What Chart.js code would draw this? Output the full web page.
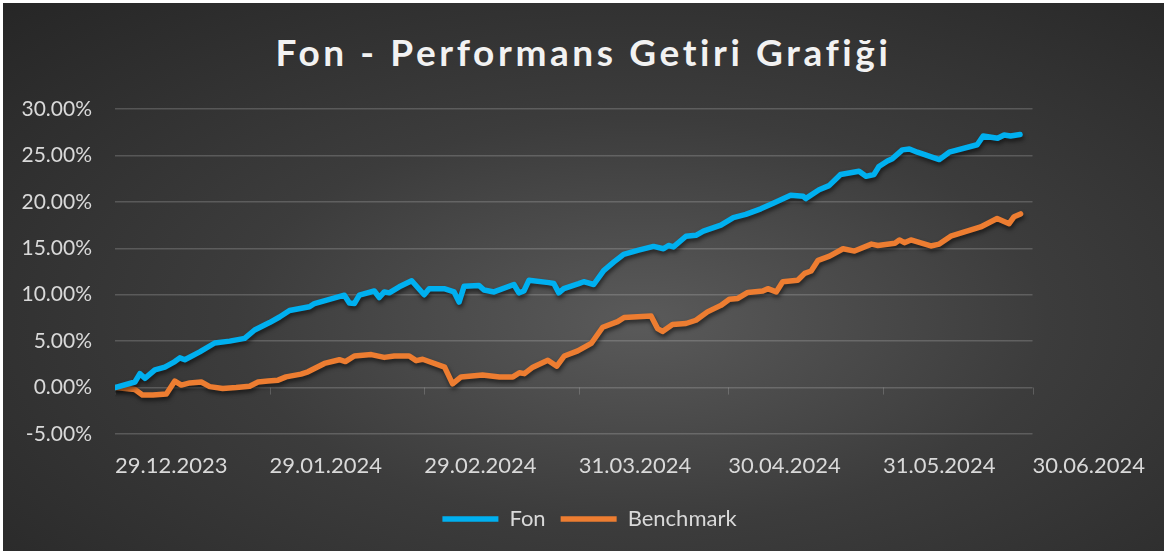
<!DOCTYPE html>
<html>
<head>
<meta charset="utf-8">
<script src="https://cdn.jsdelivr.net/npm/chart.js@4.4.1/dist/chart.umd.min.js"></script>
<style>
html, body { margin: 0; padding: 0; background: #fff; }
#box {
  position: absolute; left: 3px; top: 3px; width: 1161px; height: 548px;
  background: radial-gradient(ellipse farthest-corner at 55% 58%, #5a5a5a 0%, #3c3c3c 45%, #262626 100%);
}
#title {
  position: absolute; left: 0; right: 0; top: 27px; text-align: center;
  font-family: Lato, "Open Sans", sans-serif; font-weight: bold; font-size: 37px;
  letter-spacing: 3.6px; color: #f2f2f2; line-height: 44px;
}
canvas { position: absolute; left: 0; top: 0; }
</style>
</head>
<body>
<div id="box">
  <div id="title">Fon - Performans Getiri Grafiği</div>
  <canvas id="grafik" width="1161" height="548"></canvas>
</div>
<script>
// gün sayısı: 29.12.2023'den itibaren
var tickDays = [0, 31, 62, 93, 123, 154, 184];
var tickLabels = ["29.12.2023", "29.01.2024", "29.02.2024", "31.03.2024", "30.04.2024", "31.05.2024", "30.06.2024"];

var fonDays = [0, 4, 5, 6, 8, 10, 12, 13, 14, 17, 20, 23, 26, 28, 31, 33, 35, 39, 40, 43, 46, 47, 48, 49, 52, 53, 54, 55, 57, 59.5,
  62, 63, 66, 68, 69, 70, 73, 74, 76, 80, 81, 82, 83, 87, 88, 89, 90, 93, 94, 96, 98, 100, 102, 105, 108, 110, 111, 112,
  114.5, 116.5, 118, 121.5, 124, 126.5, 129.5, 132, 135.5, 138, 138.5, 141.2, 143.2, 145.5, 149.2, 150.6, 152.2, 153.2,
  154.9, 155.9, 157.9, 159.3, 160.9, 165.3, 167.3, 172.9, 174.1, 177, 178.3, 179.6, 181.5];
var fonValues = [0, 0.6, 1.5, 1.0, 1.9, 2.2, 2.8, 3.2, 3.0, 3.85, 4.8, 5.0, 5.3, 6.2, 7.0, 7.6, 8.3, 8.7, 9.05, 9.5, 9.95, 9.1, 9.05, 9.95, 10.4, 9.7, 10.3, 10.2, 10.85, 11.5,
  10.0, 10.65, 10.65, 10.3, 9.2, 10.9, 11.0, 10.5, 10.3, 11.1, 10.2, 10.4, 11.55, 11.3, 11.2, 10.2, 10.65, 11.2, 11.4, 11.1, 12.6, 13.5, 14.35, 14.8, 15.2, 14.95, 15.3, 15.15,
  16.3, 16.4, 16.85, 17.5, 18.3, 18.65, 19.25, 19.85, 20.7, 20.6, 20.35, 21.3, 21.75, 22.95, 23.3, 22.75, 22.95, 23.8,
  24.4, 24.65, 25.6, 25.7, 25.35, 24.55, 25.35, 26.15, 27.1, 26.85, 27.2, 27.1, 27.25];

var benchDays = [0, 4, 5.5, 7.6, 10.3, 12, 13.3, 15, 17.3, 19, 21.6, 24.3, 27, 28.7, 30.7, 32.7, 34.3, 37.3, 38.7, 42, 45, 46.2, 48, 51.4, 54, 56, 59, 60.4, 61.7,
  66.1, 67.7, 69.4, 73.7, 77.1, 79.8, 81.1, 82.1, 83.8, 86.8, 88.6, 90.1, 92.8, 95.5, 97.8, 100.8, 102.1, 107.5, 108.8, 109.8, 111.8,
  114.5, 116.5, 118.8, 121.5, 123.2, 124.9, 126.9, 129.9, 130.9, 132.6, 133.9, 136.9, 138.3, 139.6, 141, 143.3, 146, 148.3,
  151.7, 153, 156.4, 157.3, 158.3, 159.6, 163.6, 165.3, 167.6, 173.6, 176.9, 179.3, 180.3, 181.6];
var benchValues = [0, -0.2, -0.8, -0.8, -0.7, 0.7, 0.27, 0.5, 0.6, 0.1, -0.1, 0.0, 0.15, 0.6, 0.7, 0.8, 1.15, 1.45, 1.7, 2.6, 3.0, 2.8, 3.4, 3.55, 3.25, 3.4, 3.4, 2.9, 3.05,
  2.2, 0.4, 1.15, 1.35, 1.15, 1.15, 1.6, 1.5, 2.2, 2.95, 2.3, 3.4, 3.95, 4.75, 6.5, 7.1, 7.55, 7.7, 6.35, 6.05, 6.8,
  6.9, 7.25, 8.15, 8.85, 9.5, 9.6, 10.25, 10.4, 10.65, 10.3, 11.4, 11.55, 12.3, 12.55, 13.7, 14.15, 14.95, 14.7,
  15.45, 15.3, 15.55, 15.9, 15.6, 15.9, 15.25, 15.45, 16.3, 17.3, 18.2, 17.65, 18.4, 18.7];

function pairs(xs, ys) {
  return xs.map(function (x, i) { return { x: x, y: ys[i] }; });
}

var yaziRengi = "#d9d9d9";
var izgaraRengi = "rgba(217,217,217,0.22)";

// sıfır çizgisi üzerindeki küçük işaretler + çizgi gölgesi
var gölgeEklentisi = {
  id: "golge",
  afterLayout: function (chart) {
    // lejant tüm genişliğe göre ortalansın
    var lg = chart.legend;
    if (lg) {
      lg.left = 0;
      lg.right = chart.width + 12;
      lg.top -= 2;
      lg.bottom -= 2;
    }
  },
  beforeDatasetsDraw: function (chart) {
    var ctx = chart.ctx, xs = chart.scales.x, ys = chart.scales.y;
    var y0 = ys.getPixelForValue(0);
    ctx.save();
    ctx.strokeStyle = izgaraRengi;
    ctx.lineWidth = 1;
    tickDays.forEach(function (d) {
      var px = Math.round(xs.getPixelForValue(d)) + 0.5;
      ctx.beginPath();
      ctx.moveTo(px, y0);
      ctx.lineTo(px, y0 + 7);
      ctx.stroke();
    });
    ctx.restore();
    ctx.save();
    ctx.shadowColor = "rgba(0,0,0,0.55)";
    ctx.shadowBlur = 4;
    ctx.shadowOffsetY = 3;
    ctx.shadowOffsetX = 1;
  },
  afterDatasetsDraw: function (chart) {
    chart.ctx.restore();
  }
};

new Chart(document.getElementById("grafik"), {
  type: "line",
  data: {
    datasets: [{
      label: "Fon",
      data: pairs(fonDays, fonValues),
      borderColor: "#00b0f0",
      backgroundColor: "#00b0f0",
      borderWidth: 5.5,
      borderCapStyle: "round",
      borderJoinStyle: "round",
      pointRadius: 0,
      tension: 0
    }, {
      label: "Benchmark",
      data: pairs(benchDays, benchValues),
      borderColor: "#ed7d31",
      backgroundColor: "#ed7d31",
      borderWidth: 5.5,
      borderCapStyle: "round",
      borderJoinStyle: "round",
      pointRadius: 0,
      tension: 0
    }]
  },
  options: {
    responsive: false,
    animation: false,
    layout: { padding: { top: 106, right: 129, left: 0, bottom: 9 } },
    scales: {
      x: {
        type: "linear",
        min: 0,
        max: 184,
        afterBuildTicks: function (s) {
          s.ticks = tickDays.map(function (d) { return { value: d }; });
        },
        afterFit: function (s) { s.height = 61; },
        ticks: {
          autoSkip: false,
          maxRotation: 0,
          align: "start",
          padding: 19,
          color: yaziRengi,
          font: { family: "Lato", size: 22 },
          callback: function (v, i) { return tickLabels[i]; }
        },
        grid: { display: false, drawTicks: false },
        border: { display: false }
      },
      y: {
        min: -5,
        max: 30,
        afterFit: function (s) { s.width = 112; },
        ticks: {
          stepSize: 5,
          padding: 23,
          color: yaziRengi,
          font: { family: "Lato", size: 21 },
          callback: function (v) { return v.toFixed(2) + "%"; }
        },
        grid: { color: izgaraRengi, lineWidth: 1.5, drawTicks: false },
        border: { display: false }
      }
    },
    plugins: {
      title: { display: false },
      tooltip: { enabled: false },
      legend: {
        position: "bottom",
        labels: {
          usePointStyle: true,
          pointStyle: "line",
          pointStyleWidth: 56,
          boxHeight: 6,
          padding: 15,
          color: yaziRengi,
          font: { family: "Lato", size: 22 }
        }
      }
    }
  },
  plugins: [gölgeEklentisi]
});
</script>
</body>
</html>
